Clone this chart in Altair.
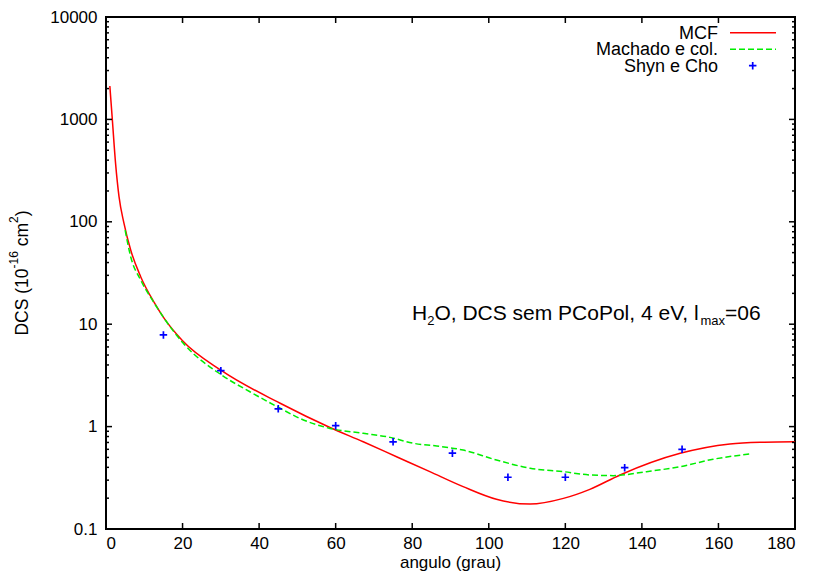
import altair as alt
import pandas as pd

# ---------------- data ----------------
mcf_angle = [1.0, 1.65, 2.5, 3.4, 4.7, 6.45, 9.06, 12.5, 15.2, 20.0, 30.2, 45.5,
             58.5, 67.2, 75.9, 84.6, 93.3, 102.0, 110.8, 119.5, 126.4, 134.3,
             150.0, 163.0, 172.0, 180.0]
mcf_dcs = [2120, 1000, 372, 176, 96.6, 53, 29.1, 16.5, 11.4, 6.9, 3.52, 1.69,
           0.98, 0.711, 0.508, 0.363, 0.259, 0.195, 0.175, 0.199, 0.244, 0.337,
           0.548, 0.676, 0.705, 0.713]

mach_angle = [5.0, 6.45, 9.06, 12.5, 15.2, 20.2, 30.2, 37.6, 45.5, 50.7, 58.5,
              67.2, 74.2, 80.3, 86.4, 93.3, 102.0, 110.8, 119.5, 126.4, 132.5,
              141.2, 150.0, 158.6, 168.2]
mach_dcs = [83, 45.6, 27, 16.3, 11.4, 6.5, 3.19, 2.19, 1.51, 1.2, 0.96,
            0.86, 0.785, 0.687, 0.646, 0.59, 0.472, 0.392, 0.363, 0.337, 0.332,
            0.363, 0.406, 0.48, 0.54]

exp_angle = [15, 30, 45, 60, 75, 90.5, 105, 120, 135.5, 150.5]
exp_dcs = [7.85, 3.52, 1.49, 1.02, 0.71, 0.55, 0.32, 0.32, 0.397, 0.60]

x_ticks = [0, 20, 40, 60, 80, 100, 120, 140, 160, 180]
y_major = [0.1, 1, 10, 100, 1000, 10000]
y_minor = [m * 10.0 ** k for k in range(-1, 4) for m in range(2, 10)]

legend_labels = ["MCF", "Machado e col.", "Shyn e Cho"]
x_title = "angulo (grau)"

# ---------------- layout / style ----------------
W, H = 689, 512
FONT = "Liberation Sans"
RED, GREEN, BLUE = "#ff0000", "#00ee00", "#0000ff"

ARIAL = {"D": 722, "C": 722, "S": 667, " ": 278, "(": 333, ")": 333,
         "1": 556, "0": 556, "-": 333, "6": 556, "c": 500, "m": 833, "2": 556,
         "H": 722, "O": 778, ",": 278, "s": 500, "e": 556, "P": 667, "o": 556,
         "l": 222, "4": 556, "V": 667, "a": 556, "x": 500, "=": 584}


def tw(s, size):
    return sum(ARIAL.get(ch, 556) for ch in s) * size / 1000.0


one = pd.DataFrame({"k": [0]})

xs = alt.Scale(domain=[0, 180], nice=False, zero=False)
ys = alt.Scale(type="log", domain=[0.1, 10000], nice=False)

x_axis = alt.Axis(values=x_ticks, title=None, labelPadding=6)
y_axis = alt.Axis(values=y_major, format="~g", title=None, labelPadding=9)
x_enc = alt.X("angle:Q", scale=xs, axis=x_axis)
y_enc = alt.Y("dcs:Q", scale=ys, axis=y_axis)

df_mcf = pd.DataFrame({"angle": mcf_angle, "dcs": mcf_dcs})
df_mach = pd.DataFrame({"angle": mach_angle, "dcs": mach_dcs})
df_exp = pd.DataFrame({"angle": exp_angle, "dcs": exp_dcs})

mcf = alt.Chart(df_mcf).mark_line(color=RED, strokeWidth=1.5,
                                  interpolate="monotone").encode(x=x_enc, y=y_enc)
mach = alt.Chart(df_mach).mark_line(color=GREEN, strokeWidth=1.5, strokeDash=[6, 3],
                                    interpolate="monotone").encode(x=x_enc, y=y_enc)
PLUS = "M-1,0L1,0M0,-1L0,1"
exp = alt.Chart(df_exp).mark_point(shape=PLUS, filled=False, color=BLUE,
                                   strokeWidth=1.7, size=56, opacity=1).encode(x=x_enc, y=y_enc)

# ---------------- inward ticks (gnuplot style, mirrored) ----------------
xt = pd.DataFrame({"angle": x_ticks})
tick_b = alt.Chart(xt).mark_rule(color="black", strokeWidth=1.5).encode(
    x=x_enc, y=alt.value(H), y2=alt.value(H - 6))
tick_t = alt.Chart(xt).mark_rule(color="black", strokeWidth=1.5).encode(
    x=x_enc, y=alt.value(0), y2=alt.value(6))

ymaj = pd.DataFrame({"dcs": y_major})
ymin = pd.DataFrame({"dcs": y_minor})
tick_l = alt.Chart(ymaj).mark_rule(color="black", strokeWidth=1.5).encode(
    y=y_enc, x=alt.value(0), x2=alt.value(6))
tick_r = alt.Chart(ymaj).mark_rule(color="black", strokeWidth=1.5).encode(
    y=y_enc, x=alt.value(W), x2=alt.value(W - 6))
mtick_l = alt.Chart(ymin).mark_rule(color="black", strokeWidth=1.5).encode(
    y=y_enc, x=alt.value(0), x2=alt.value(3))
mtick_r = alt.Chart(ymin).mark_rule(color="black", strokeWidth=1.5).encode(
    y=y_enc, x=alt.value(W), x2=alt.value(W - 3))

# ---------------- x title (placed so it stays inside the page) ----------------
xtitle = alt.Chart(one).mark_text(
    text=x_title, align="center", baseline="alphabetic", font=FONT, fontSize=17,
    color="black").encode(x=alt.value(W / 2), y=alt.value(H + 38.5))

# ---------------- legend (label left, sample right, like gnuplot) ----------------
leg_x_text = 612
leg_rows = [15.7, 32.3, 48.7]
leg_layers = []
for lab, yc in zip(legend_labels, leg_rows):
    leg_layers.append(alt.Chart(one).mark_text(
        text=lab, align="right", baseline="alphabetic", font=FONT, fontSize=18,
        color="black").encode(x=alt.value(leg_x_text), y=alt.value(yc + 6)))
leg_layers.append(alt.Chart(one).mark_rule(color=RED, strokeWidth=1.5).encode(
    x=alt.value(624), x2=alt.value(670), y=alt.value(leg_rows[0])))
leg_layers.append(alt.Chart(one).mark_rule(color=GREEN, strokeWidth=1.5, strokeDash=[6, 3]).encode(
    x=alt.value(624), x2=alt.value(670), y=alt.value(leg_rows[1])))
leg_layers.append(alt.Chart(one).mark_point(shape=PLUS, filled=False, color=BLUE,
                                             strokeWidth=1.7, size=56, opacity=1).encode(
    x=alt.value(646.7), y=alt.value(leg_rows[2])))

# ---------------- annotation with subscripts ----------------
ann_pieces = [("H", 21, 0, 0), ("2", 13, 5, 0), ("O, DCS sem PCoPol, 4 eV, l", 21, 0, 0),
              ("max", 13, 5, 0), ("=06", 21, 0, 0)]
ann_layers = []
cx = 306.0
base = 303.0
for txt, fs, dy, gap in ann_pieces:
    cx += gap
    ann_layers.append(alt.Chart(one).mark_text(
        text=txt, align="left", baseline="alphabetic", font=FONT, fontSize=fs,
        color="black").encode(x=alt.value(cx), y=alt.value(base + dy)))
    cx += tw(txt, fs)

# ---------------- rotated y title with superscripts ----------------
# (text, font size, raise, gap before)
yt_pieces = [("DCS (10", 17.5, 0, 0), ("-16", 12, 10, 0), ("cm", 17.5, 0, tw(" ", 17.5)),
             ("2", 12, 10, 0), (")", 17.5, 0, 0)]
total = sum(tw(t, s) + g for t, s, _, g in yt_pieces)
cy = H / 2 + total / 2
bx = -78.0
yt_layers = []
for txt, fs, up, gap in yt_pieces:
    cy -= gap
    yt_layers.append(alt.Chart(one).mark_text(
        text=txt, align="left", baseline="alphabetic", angle=270, font=FONT,
        fontSize=fs, color="black").encode(x=alt.value(bx - up), y=alt.value(cy)))
    cy -= tw(txt, fs)

chart = alt.layer(
    mcf, mach, exp, tick_b, tick_t, tick_l, tick_r, mtick_l, mtick_r, xtitle,
    *leg_layers, *ann_layers, *yt_layers
).properties(
    width=W, height=H,
    autosize=alt.AutoSizeParams(type="none"),
    padding={"left": 98, "top": 9, "right": 11, "bottom": 42},
    background="white",
).configure_view(
    stroke="black", strokeWidth=2
).configure_axis(
    grid=False, ticks=False, domain=False,
    labelFont=FONT, labelFontSize=17, labelColor="black",
    titleFont=FONT, titleFontSize=17, titleFontWeight="normal", titleColor="black",
)

chart.save("out.html", embed_options={"renderer": "svg", "actions": False})
